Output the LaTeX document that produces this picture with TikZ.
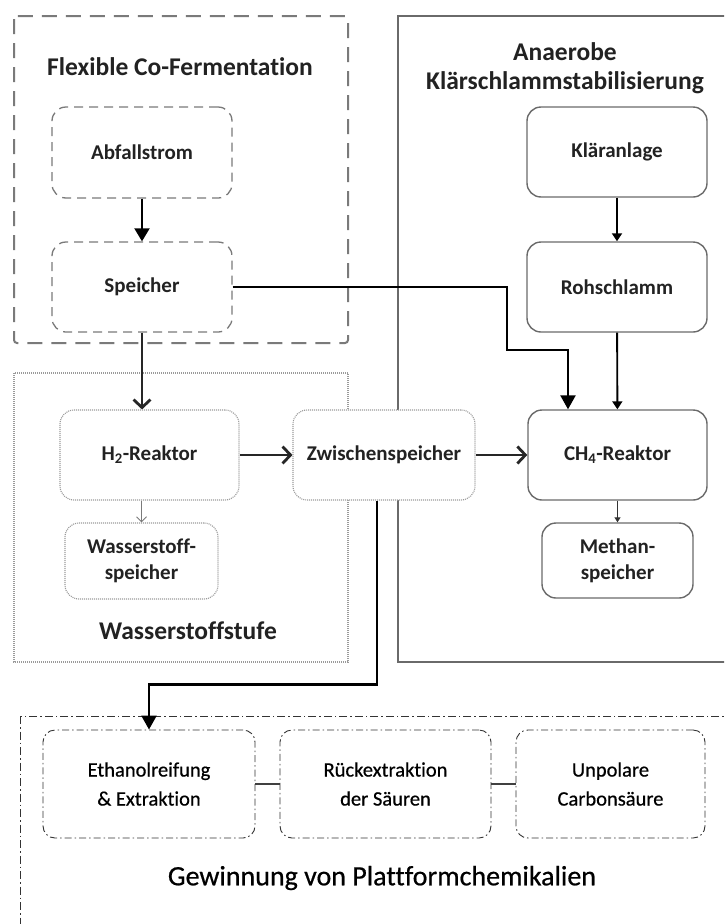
\documentclass[tikz,border=0pt]{standalone}
\usepackage{fontspec}
\setmainfont{Carlito}[Ligatures=NoCommon]
\newfontfamily\chemfont{Carlito}[Ligatures=NoCommon, FakeBold=0.6]
\usetikzlibrary{arrows.meta}

\definecolor{txt}{HTML}{222222}
\definecolor{grayA}{HTML}{7A7A7A}
\definecolor{grayB}{HTML}{6A6A6A}
\definecolor{grayC}{HTML}{9A9A9A}

\begin{document}
\begin{tikzpicture}[x=1pt,y=-1pt,
  every node/.style={text=txt, align=center, inner sep=0pt},
  box/.style={rounded corners=14pt, fill=white, font=\bfseries\fontsize{21}{26}\selectfont},
  dashbox/.style={box, draw=grayA, line width=1.3pt, dash pattern=on 9pt off 6pt},
  solidbox/.style={box, draw=grayB, line width=1.4pt},
  dotbox/.style={box, draw=grayC, line width=1.1pt, dash pattern=on 1pt off 1pt},
  ddbox/.style={rounded corners=12pt, fill=white, draw=black!80, line width=0.9pt,
    dash pattern=on 7pt off 3pt on 1.5pt off 3pt, text=black,
    font=\chemfont\fontsize{20.5}{29}\selectfont},
  grouptitle/.style={font=\bfseries\fontsize{25.5}{29}\selectfont},
  flow/.style={draw=black, line width=2.4pt},
  bigtip/.style={flow, -{Triangle[length=14pt,width=15pt]}},
  smalltip/.style={draw=black, line width=1.9pt, -{Triangle[length=8pt,width=10pt]}},
  barb/.style={draw=black!85, line width=2.8pt, -{Straight Barb[length=8pt,width=17pt]}},
]
\useasboundingbox (0,0) rectangle (724,924);
\fill[white] (0,0) rectangle (724,924);
\clip (0,0) rectangle (724,924);

% group frames
\draw[grayA, line width=2pt, dash pattern=on 15pt off 9pt, rounded corners=3pt]
  (14,16) rectangle (348,343);
\draw[grayB, line width=2pt] (398,16) rectangle (740,662);
\draw[grayC, line width=1.6pt, dash pattern=on 1pt off 1pt] (14,373) rectangle (348,662);
\draw[black!80, line width=0.9pt, dash pattern=on 8pt off 3pt on 1.5pt off 3pt]
  (20,716) rectangle (745,945);

% group titles
\node[grouptitle] (tflex) at (180,67) {Flexible Co-Fermentation};
\node[grouptitle] (tana) at (565,68) {Anaerobe\\Klärschlammstabilisierung};
\node[grouptitle] (th2) at (188,631) {Wasserstoffstufe};
\node[font=\chemfont\fontsize{28}{32}\selectfont, text=black] (tgew) at (382,878) {Gewinnung von Plattformchemikalien};

% co-fermentation
\node[dashbox, minimum width=180pt, minimum height=91pt] (abf) at (142,152.5) {Abfallstrom};
\node[dashbox, minimum width=180pt, minimum height=90pt] (spe) at (142,287) {Speicher};

% sewage sludge line
\node[solidbox, minimum width=180pt, minimum height=90pt] (kla) at (617,152) {Kläranlage};
\node[solidbox, minimum width=180pt, minimum height=90pt] (roh) at (617,287) {Rohschlamm};
\node[solidbox, minimum width=179pt, minimum height=90pt] (ch4) at (617.5,455) {CH\textsubscript{4}-Reaktor};
\node[solidbox, minimum width=151pt, minimum height=75pt] (met) at (617.5,560.5) {Methan-\\speicher};

% hydrogen stage
\node[dotbox, minimum width=179pt, minimum height=90pt] (h2) at (149.5,455) {H\textsubscript{2}-Reaktor};
\node[dotbox, minimum width=153pt, minimum height=76pt] (wsp) at (141.5,561) {Wasserstoff-\\speicher};
\node[dotbox, minimum width=182pt, minimum height=90pt] (zw) at (384,455) {Zwischenspeicher};

% platform chemicals
\node[ddbox, minimum width=212pt, minimum height=108pt] (eth) at (149,784) {Ethanolreifung\\\& Extraktion};
\node[ddbox, minimum width=211pt, minimum height=108pt] (rue) at (385.5,784) {Rückextraktion\\der Säuren};
\node[ddbox, minimum width=189pt, minimum height=108pt] (unp) at (610.5,784) {Unpolare\\Carbonsäure};

% connectors
\draw[flow, line width=2pt, -{Triangle[length=13pt,width=15pt]}] (abf) -- (spe);
\draw[barb] (spe.south) -- (spe.south |- h2.north);
\coordinate (b1) at (507,287);
\coordinate (b2) at (568,350);
\draw[bigtip] (spe.east) -- (b1) |- (b2) -- (b2 |- ch4.north);
\draw[smalltip] (kla) -- (roh);
\draw[smalltip] (roh) -- (ch4);
\draw[barb] (h2) -- (zw);
\draw[barb] (zw) -- (ch4);
\draw[grayA, line width=1pt, -{Straight Barb[length=5pt,width=10pt]}] (wsp.north |- h2.south) -- (wsp.north);
\draw[black!80, line width=1pt, -{Triangle[length=5pt,width=6pt]}] (ch4.south) -- (met.north);
\draw[bigtip] ([xshift=-7pt]zw.south) -- ++(0,184) -| (eth.north);
\draw[black!75, line width=1.2pt] (eth.east) -- (rue.west);
\draw[black!75, line width=1.2pt] (rue.east) -- (unp.west);
\end{tikzpicture}
\end{document}
